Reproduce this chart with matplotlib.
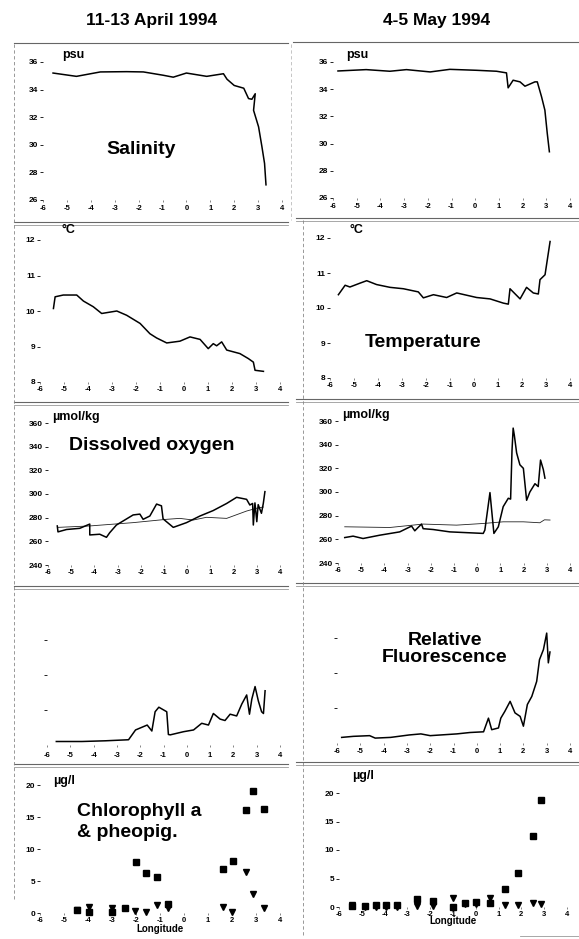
import numpy as np
import matplotlib
matplotlib.use("Agg")
import matplotlib.pyplot as plt
from matplotlib.lines import Line2D

plt.rcParams["font.family"] = ["Liberation Sans", "DejaVu Sans"]
plt.rcParams["font.weight"] = "bold"
plt.rcParams["axes.unicode_minus"] = False

W, H = 579, 939

# ---- data (longitude, value) ----
lon_ticks = [-6, -5, -4, -3, -2, -1, 0, 1, 2, 3, 4]

sal_apr_lon = [-5.58, -4.6, -3.6, -2.5, -1.8, -0.97, -0.55, 0.0, 0.85, 1.55, 1.7, 2.0,
               2.4, 2.6, 2.74, 2.88, 2.81, 3.02, 3.16, 3.27, 3.33]
sal_apr = [35.2, 34.96, 35.28, 35.3, 35.28, 35.04, 34.9, 35.2, 34.96, 35.15, 34.75, 34.3,
           34.1, 33.35, 33.3, 33.7, 32.5, 31.3, 29.86, 28.65, 27.1]

sal_may_lon = [-5.79, -4.6, -3.6, -2.9, -1.9, -1.07, 0.06, 0.9, 1.32, 1.39, 1.6, 1.89,
               2.1, 2.52, 2.62, 2.8, 2.94, 3.04, 3.13]
sal_may = [35.34, 35.44, 35.32, 35.44, 35.27, 35.46, 35.39, 35.32, 35.2, 34.1, 34.66, 34.54,
           34.22, 34.54, 34.54, 33.44, 32.46, 30.76, 29.4]

tmp_apr_lon = [-5.44, -5.37, -5.03, -4.47, -4.19, -3.78, -3.43, -2.8, -2.39, -1.83, -1.42,
               -1.14, -0.72, -0.17, 0.25, 0.67, 1.01, 1.22, 1.36, 1.57, 1.78, 2.33, 2.68,
               2.89, 2.96, 3.31]
tmp_apr = [10.07, 10.4, 10.45, 10.45, 10.28, 10.12, 9.93, 10.0, 9.88, 9.65, 9.36,
           9.24, 9.1, 9.15, 9.27, 9.2, 8.94, 9.08, 9.02, 9.13, 8.9, 8.8, 8.66,
           8.56, 8.33, 8.3]

tmp_may_lon = [-5.65, -5.37, -5.17, -4.75, -4.47, -4.06, -3.5, -2.94, -2.32, -2.11, -1.69,
               -1.14, -0.72, 0.11, 0.67, 1.22, 1.43, 1.5, 1.92, 2.19, 2.47, 2.68, 2.75,
               2.96, 3.17]
tmp_may = [10.38, 10.65, 10.6, 10.71, 10.78, 10.67, 10.59, 10.55, 10.46, 10.29, 10.38,
           10.3, 10.43, 10.3, 10.26, 10.14, 10.11, 10.55, 10.26, 10.59, 10.43, 10.4, 10.81,
           10.95, 11.9]

oxy_apr_lon = [-5.6, -5.57, -5.2, -4.63, -4.2, -4.2, -3.77, -3.48, -3.34, -3.05, -2.33,
               -2.04, -1.9, -1.61, -1.32, -1.11, -1.04, -0.6, -0.03, 0.55, 1.12, 1.7,
               2.13, 2.56, 2.7, 2.82, 2.85, 2.92, 3.0, 3.06, 3.2, 3.28, 3.35]
oxy_apr = [273, 268, 270, 271, 274.6, 265.4, 266, 263.4, 267.3, 273.8, 282.3,
           283, 278.6, 281.4, 291.5, 290, 279, 271.8, 275.8, 281.4, 286, 292,
           297.2, 295.5, 290.7, 292, 273.8, 292.5, 276.6, 291, 283.7, 292, 302]
sat_apr_lon = [-5.57, -4.2, -2.33, -0.89, -0.32, 0.26, 0.83, 1.7, 2.56, 3.0, 3.28]
sat_apr = [271.8, 273, 275.8, 278.6, 279.4, 278, 280.3, 279.4, 285.6, 288, 289]

oxy_may_lon = [-5.71, -5.35, -4.92, -4.2, -3.34, -2.83, -2.69, -2.55, -2.4, -2.33, -1.9,
               -1.18, 0.26, 0.33, 0.55, 0.72, 0.91, 1.12, 1.34, 1.44, 1.5, 1.55, 1.6,
               1.7, 1.84, 1.99, 2.13, 2.27, 2.49, 2.63, 2.73, 2.85, 2.92]
oxy_may = [261.5, 262.7, 260.7, 263.5, 266.3, 271.2, 267.2, 270, 272.9, 269, 268.3,
           266.3, 265, 267.8, 299.5, 265, 270.6, 287.6, 294.7, 294, 335, 354, 348,
           333, 323, 320, 293, 300, 307, 304.6, 327, 319, 311.7]
sat_may_lon = [-5.71, -3.77, -2.33, -0.89, 0.26, 1.12, 1.99, 2.7, 2.9, 3.14]
sat_may = [270.6, 270, 272.9, 272, 273.4, 274.8, 274.8, 274, 276.5, 276.3]

flu_apr_lon = [-5.6, -4.5, -3.5, -2.5, -2.2, -1.7, -1.5, -1.36, -1.2, -0.86, -0.79, -0.71,
               -0.14, 0.29, 0.64, 0.93, 1.14, 1.43, 1.64, 1.86, 2.14, 2.36, 2.57, 2.69,
               2.79, 2.93, 3.07, 3.21, 3.29, 3.36]
flu_apr = [0.1, 0.1, 0.12, 0.15, 0.43, 0.57, 0.4, 0.95, 1.08, 0.95, 0.3, 0.29,
           0.38, 0.43, 0.62, 0.57, 0.9, 0.74, 0.7, 0.88, 0.83, 1.17, 1.43, 0.88,
           1.31, 1.67, 1.26, 0.95, 0.9, 1.55]

flu_may_lon = [-5.8, -5.3, -4.6, -4.36, -3.7, -2.9, -2.4, -2.0, -0.86, -0.29, 0.29, 0.5,
               0.64, 0.93, 1.03, 1.2, 1.43, 1.64, 1.86, 2.0, 2.17, 2.36, 2.57, 2.69,
               2.86, 3.0, 3.07, 3.14]
flu_may = [0.16, 0.19, 0.21, 0.14, 0.16, 0.23, 0.26, 0.21, 0.26, 0.3, 0.32, 0.71,
           0.38, 0.43, 0.71, 0.9, 1.19, 0.86, 0.76, 0.48, 1.1, 1.33, 1.76, 2.38,
           2.67, 3.14, 2.29, 2.6]

chl_apr_lon = [-4.47, -3.94, -3.01, -2.46, -2.0, -1.58, -1.14, -0.65, 1.61, 2.06, 2.57, 2.89, 3.35]
chl_apr = [0.4, 0.15, 0.15, 0.8, 8.0, 6.2, 5.7, 1.46, 6.8, 8.1, 16.1, 19.1, 16.2]
pheo_apr_lon = [-4.47, -3.94, -3.01, -2.04, -1.58, -1.14, -0.65, 1.61, 2.01, 2.57, 2.86, 3.35]
pheo_apr = [0.5, 0.9, 0.8, 0.26, 0.15, 1.2, 0.8, 0.9, 0.15, 6.4, 2.9, 0.8]

chl_may_lon = [-5.41, -4.87, -4.39, -3.92, -3.45, -2.6, -1.87, -0.99, -0.47, 0.01, 0.63,
               1.29, 1.87, 2.49, 2.86]
chl_may = [0.1, 0.1, 0.3, 0.3, 0.3, 1.47, 1.0, 0.0, 0.7, 0.9, 0.7, 3.1, 5.9, 12.4, 18.7]
pheo_may = [0.3, 0.0, 0.0, 0.0, 0.0, 0.1, 0.1, 1.5, 0.6, 0.6, 1.6, 0.3, 0.3, 0.7, 0.6]

fig = plt.figure(figsize=(W / 100, H / 100), dpi=100)


def panel(x0, x1, y_top, y_bot, ylo, yhi, yticks, ylabels, xlab_pad=2.5):
    # place an axes so that lon -6..4 spans x0..x1 px and ylo..yhi spans y_bot..y_top px
    ax = fig.add_axes([x0 / W, 1 - y_bot / H, (x1 - x0) / W, (y_bot - y_top) / H])
    ax.set_xlim(-6, 4)
    ax.set_ylim(ylo, yhi)
    for s in ax.spines.values():
        s.set_visible(False)
    ax.set_xticks(lon_ticks)
    ax.set_xticklabels([str(t) for t in lon_ticks], fontsize=5.5, fontweight="bold")
    ax.set_yticks(yticks)
    ax.set_yticklabels(ylabels, fontsize=6, fontweight="bold")
    ax.tick_params(axis="x", length=1.2, width=0.5, pad=xlab_pad, color="#555555")
    ax.tick_params(axis="y", length=2, width=0.6, pad=1.5)
    ax.patch.set_alpha(0)
    return ax


def ftext(x, y, s, size, ha="left", va="center", **kw):
    fig.text(x / W, 1 - y / H, s, fontsize=size, fontweight="bold", ha=ha, va=va, **kw)


line_kw = dict(color="black", lw=1.1, clip_on=False)
thin_kw = dict(color="#222222", lw=0.6, clip_on=False)

# ---- salinity ----
sal_ticks = [26, 28, 30, 32, 34, 36]
ax = panel(43, 282, 62, 200, 26, 36, sal_ticks, [str(t) for t in sal_ticks])
ax.plot(sal_apr_lon, sal_apr, **line_kw)
ax = panel(333, 570, 62, 198, 26, 36, sal_ticks, [str(t) for t in sal_ticks])
ax.plot(sal_may_lon, sal_may, **line_kw)

# ---- temperature ----
tmp_ticks = [8, 9, 10, 11, 12]
ax = panel(40, 280, 240, 382, 8, 12, tmp_ticks, [str(t) for t in tmp_ticks], 1.5)
ax.plot(tmp_apr_lon, tmp_apr, **line_kw)
ax = panel(330, 570, 238, 378, 8, 12, tmp_ticks, [str(t) for t in tmp_ticks], 1.5)
ax.plot(tmp_may_lon, tmp_may, **line_kw)

# ---- oxygen ----
oxy_ticks = [240, 260, 280, 300, 320, 340, 360]
ax = panel(48, 280, 423, 565, 240, 360, oxy_ticks, [str(t) for t in oxy_ticks], 1.5)
ax.plot(sat_apr_lon, sat_apr, **thin_kw)
ax.plot(oxy_apr_lon, oxy_apr, **line_kw)
ax = panel(338, 570, 421, 563, 240, 360, oxy_ticks, [str(t) for t in oxy_ticks], 1.5)
ax.plot(sat_may_lon, sat_may, **thin_kw)
ax.plot(oxy_may_lon, oxy_may, **line_kw)

# ---- fluorescence ----
ax = panel(47, 280, 640, 745, 0, 3, [1, 2, 3], ["", "", ""], 3.5)
ax.plot(flu_apr_lon, flu_apr, **line_kw)
ax = panel(337, 570, 638, 743, 0, 3, [1, 2, 3], ["", "", ""], 2.5)
ax.plot(flu_may_lon, flu_may, **line_kw)

# ---- chlorophyll ----
chl_ticks = [0, 5, 10, 15, 20]
ax = panel(40, 280, 785, 913, 0, 20, chl_ticks, [str(t) for t in chl_ticks], 2)
ax.plot(chl_apr_lon, chl_apr, "s", color="black", ms=4, clip_on=False)
ax.plot(pheo_apr_lon, pheo_apr, "v", color="black", ms=4, clip_on=False)
ax.set_xlabel("Longitude", fontsize=7, fontweight="bold", labelpad=0)
ax = panel(339, 567, 793, 907, 0, 20, chl_ticks, [str(t) for t in chl_ticks], 1.5)
ax.plot(chl_may_lon, chl_may, "s", color="black", ms=4, clip_on=False)
ax.plot(chl_may_lon, pheo_may, "v", color="black", ms=4, clip_on=False)
ax.set_xlabel("Longitude", fontsize=7, fontweight="bold", labelpad=-1)

# ---- titles and labels ----
ftext(152, 21, "11-13 April 1994", 12.5, ha="center")
ftext(437, 21, "4-5 May 1994", 12.5, ha="center")

ftext(62, 55, "psu", 9)
ftext(346, 55, "psu", 9)
ftext(141, 149, "Salinity", 14, ha="center")
ftext(62, 230, "°C", 9)
ftext(349, 230, "°C", 9)
ftext(423, 342, "Temperature", 14, ha="center")
ftext(52, 417, "µmol/kg", 9)
ftext(342, 415, "µmol/kg", 9)
ftext(152, 446, "Dissolved oxygen", 14, ha="center")
ftext(445, 649, "Relative\nFluorescence", 14, ha="center", linespacing=1.0)
ftext(53, 781, "µg/l", 9)
ftext(352, 776, "µg/l", 9)
ftext(77, 822, "Chlorophyll a\n& pheopig.", 14, linespacing=1.25)

# ---- panel frames (scanned border lines) ----
def hline(y, x0, x1, lw=0.8, color="#666666"):
    fig.add_artist(Line2D([x0 / W, x1 / W], [1 - y / H, 1 - y / H], lw=lw, color=color))


def vline(x, y0, y1, color="#888888"):
    fig.add_artist(Line2D([x / W, x / W], [1 - y0 / H, 1 - y1 / H], lw=0.6,
                          color=color, ls=(0, (4, 3))))


hline(43, 14, 288)
hline(42, 293, 579)
for yl, yr in [(222, 218), (402, 399), (586, 583), (764, 762)]:
    hline(yl, 14, 288)
    hline(yl + 3, 14, 288, lw=0.6, color="#999999")
    hline(yr, 296, 579)
    hline(yr + 3, 296, 579, lw=0.6, color="#999999")
hline(936, 520, 579, lw=0.6, color="#999999")

vline(14, 44, 900)
vline(303, 220, 935)
vline(291, 44, 220, color="#bbbbbb")

fig.savefig("out.png", dpi=100)
